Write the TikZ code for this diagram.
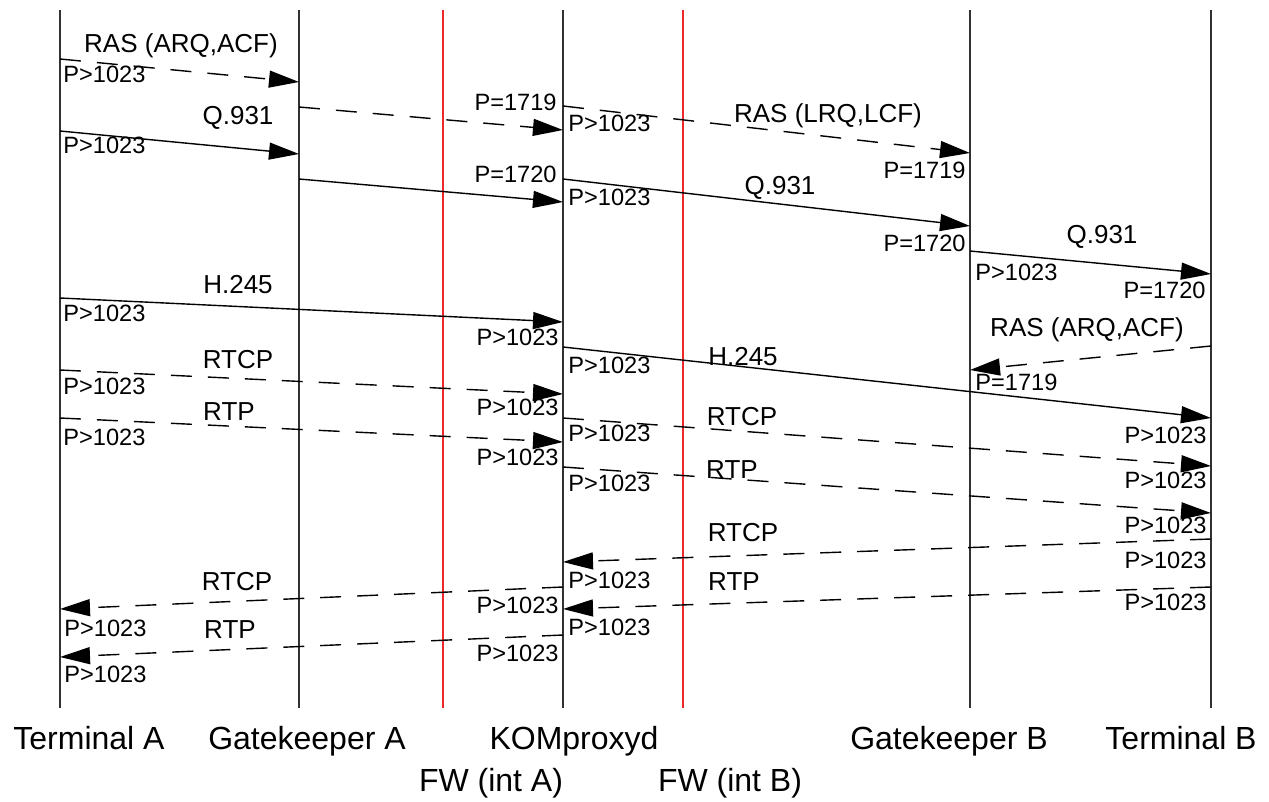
\documentclass[tikz,border=0pt]{standalone}
\usepackage{fontspec}
\setmainfont{Liberation Sans}
\usetikzlibrary{arrows.meta}
\definecolor{fwred}{RGB}{238,40,40}
\definecolor{lifegray}{RGB}{50,50,50}
\begin{document}
\begin{tikzpicture}[x=0.5pt,y=-0.5pt,
  lifeline/.style={line width=1pt, draw=lifegray},
  firewall/.style={line width=1pt, draw=fwred},
  msg/.style={line width=0.7pt, -{Triangle[length=15pt,width=8.5pt]}},
  dmsg/.style={msg, dash pattern=on 10.5pt off 8pt},
  port/.style={inner sep=0pt, font=\fontsize{11.8}{13}\selectfont},
  proto/.style={inner sep=0pt, font=\fontsize{13}{15}\selectfont},
  actor/.style={inner sep=0pt, anchor=base, font=\fontsize{16}{18}\selectfont}]
\useasboundingbox (0,0) rectangle (1269,802);
% lifelines and firewalls
\coordinate (ta) at (60,10);
\coordinate (gka) at (299,10);
\coordinate (fwa) at (443,10);
\coordinate (kom) at (563,10);
\coordinate (fwb) at (683,10);
\coordinate (gkb) at (970,10);
\coordinate (tb) at (1211,10);
\foreach \l in {ta,gka,kom,gkb,tb}
  \draw[lifeline] (\l) -- (\l |- 0,708);
\foreach \l in {fwa,fwb}
  \draw[firewall] (\l) -- (\l |- 0,708);
\node[actor] (nta) at (89,749) {Terminal A};
\node[actor] (ngka) at (307,749) {Gatekeeper A};
\node[actor] (nkom) at (574,749) {KOMproxyd};
\node[actor] (ngkb) at (949,749) {Gatekeeper B};
\node[actor] (ntb) at (1181,749) {Terminal B};
\node[actor] (nfwa) at (491,791) {FW (int A)};
\node[actor] (nfwb) at (730,791) {FW (int B)};
% call setup
\draw[dmsg] (ta |- 0,59) -- (gka |- 0,82);
\node[proto] (ras1) at (181,46) {RAS (ARQ,ACF)};
\node[port, anchor=west] (p1) at (63,74) {P>1023};
\draw[dmsg] (gka |- 0,107) -- (kom |- 0,130);
\node[port, anchor=east] (p2) at (557,102) {P=1719};
\draw[dmsg] (kom |- 0,106) -- (gkb |- 0,153);
\node[proto] (ras2) at (828,116) {RAS (LRQ,LCF)};
\node[port, anchor=west] (p3) at (568,123) {P>1023};
\node[port, anchor=east] (p4) at (966,170) {P=1719};
\draw[msg] (ta |- 0,131) -- (gka |- 0,154);
\node[proto] (q1) at (238,118) {Q.931};
\node[port, anchor=west] (p5) at (63,145) {P>1023};
\draw[msg] (gka |- 0,179) -- (kom |- 0,202);
\node[port, anchor=east] (p6) at (557,174) {P=1720};
\node[port, anchor=west] (p7) at (568,197) {P>1023};
\draw[msg] (kom |- 0,179) -- (gkb |- 0,226);
\node[proto] (q2) at (780,188) {Q.931};
\node[port, anchor=east] (p8) at (966,243) {P=1720};
\draw[msg] (gkb |- 0,251) -- (tb |- 0,274);
\node[proto] (q3) at (1102,237) {Q.931};
\node[port, anchor=west] (p9) at (975,272) {P>1023};
\node[port, anchor=east] (p10) at (1206,290) {P=1720};
% H.245
\draw[msg] (ta |- 0,298) -- (kom |- 0,322);
\node[proto] (h1) at (238,285) {H.245};
\node[port, anchor=west] (p11) at (63,313) {P>1023};
\node[port, anchor=east] (p12) at (559,337) {P>1023};
\draw[msg] (kom |- 0,347) -- (tb |- 0,418);
\node[proto] (h2) at (743,357) {H.245};
\node[port, anchor=west] (p13) at (568,365) {P>1023};
\node[port, anchor=east] (p14) at (1207,435) {P>1023};
\draw[dmsg] (tb |- 0,346) -- (gkb |- 0,370);
\node[proto] (ras3) at (1087,330) {RAS (ARQ,ACF)};
\node[port, anchor=west] (p15) at (975,382) {P=1719};
% media A to B
\draw[dmsg] (ta |- 0,370) -- (kom |- 0,394);
\node[proto] (rtcp1) at (238,360) {RTCP};
\node[port, anchor=west] (p16) at (63,386) {P>1023};
\node[port, anchor=east] (p17) at (559,407) {P>1023};
\draw[dmsg] (ta |- 0,418) -- (kom |- 0,442);
\node[proto] (rtp1) at (229,412) {RTP};
\node[port, anchor=west] (p18) at (63,437) {P>1023};
\node[port, anchor=east] (p19) at (559,457) {P>1023};
\draw[dmsg] (kom |- 0,418) -- (tb |- 0,466);
\node[proto] (rtcp2) at (742,417) {RTCP};
\node[port, anchor=west] (p20) at (568,433) {P>1023};
\node[port, anchor=east] (p21) at (1207,480) {P>1023};
\draw[dmsg] (kom |- 0,467) -- (tb |- 0,513);
\node[proto] (rtp2) at (732,470) {RTP};
\node[port, anchor=west] (p22) at (568,483) {P>1023};
\node[port, anchor=east] (p23) at (1207,525) {P>1023};
% media B to A
\draw[dmsg] (tb |- 0,539) -- (kom |- 0,562);
\node[proto] (rtcp3) at (743,533) {RTCP};
\node[port, anchor=east] (p24) at (1207,560) {P>1023};
\node[port, anchor=west] (p25) at (568,580) {P>1023};
\draw[dmsg] (tb |- 0,587) -- (kom |- 0,609);
\node[proto] (rtp3) at (734,582) {RTP};
\node[port, anchor=east] (p26) at (1207,602) {P>1023};
\node[port, anchor=west] (p27) at (568,627) {P>1023};
\draw[dmsg] (kom |- 0,587) -- (ta |- 0,609);
\node[proto] (rtcp4) at (237,582) {RTCP};
\node[port, anchor=east] (p28) at (559,605) {P>1023};
\node[port, anchor=west] (p29) at (64,628) {P>1023};
\draw[dmsg] (kom |- 0,635) -- (ta |- 0,657);
\node[proto] (rtp4) at (230,630) {RTP};
\node[port, anchor=east] (p30) at (559,653) {P>1023};
\node[port, anchor=west] (p31) at (64,674) {P>1023};
\end{tikzpicture}
\end{document}
